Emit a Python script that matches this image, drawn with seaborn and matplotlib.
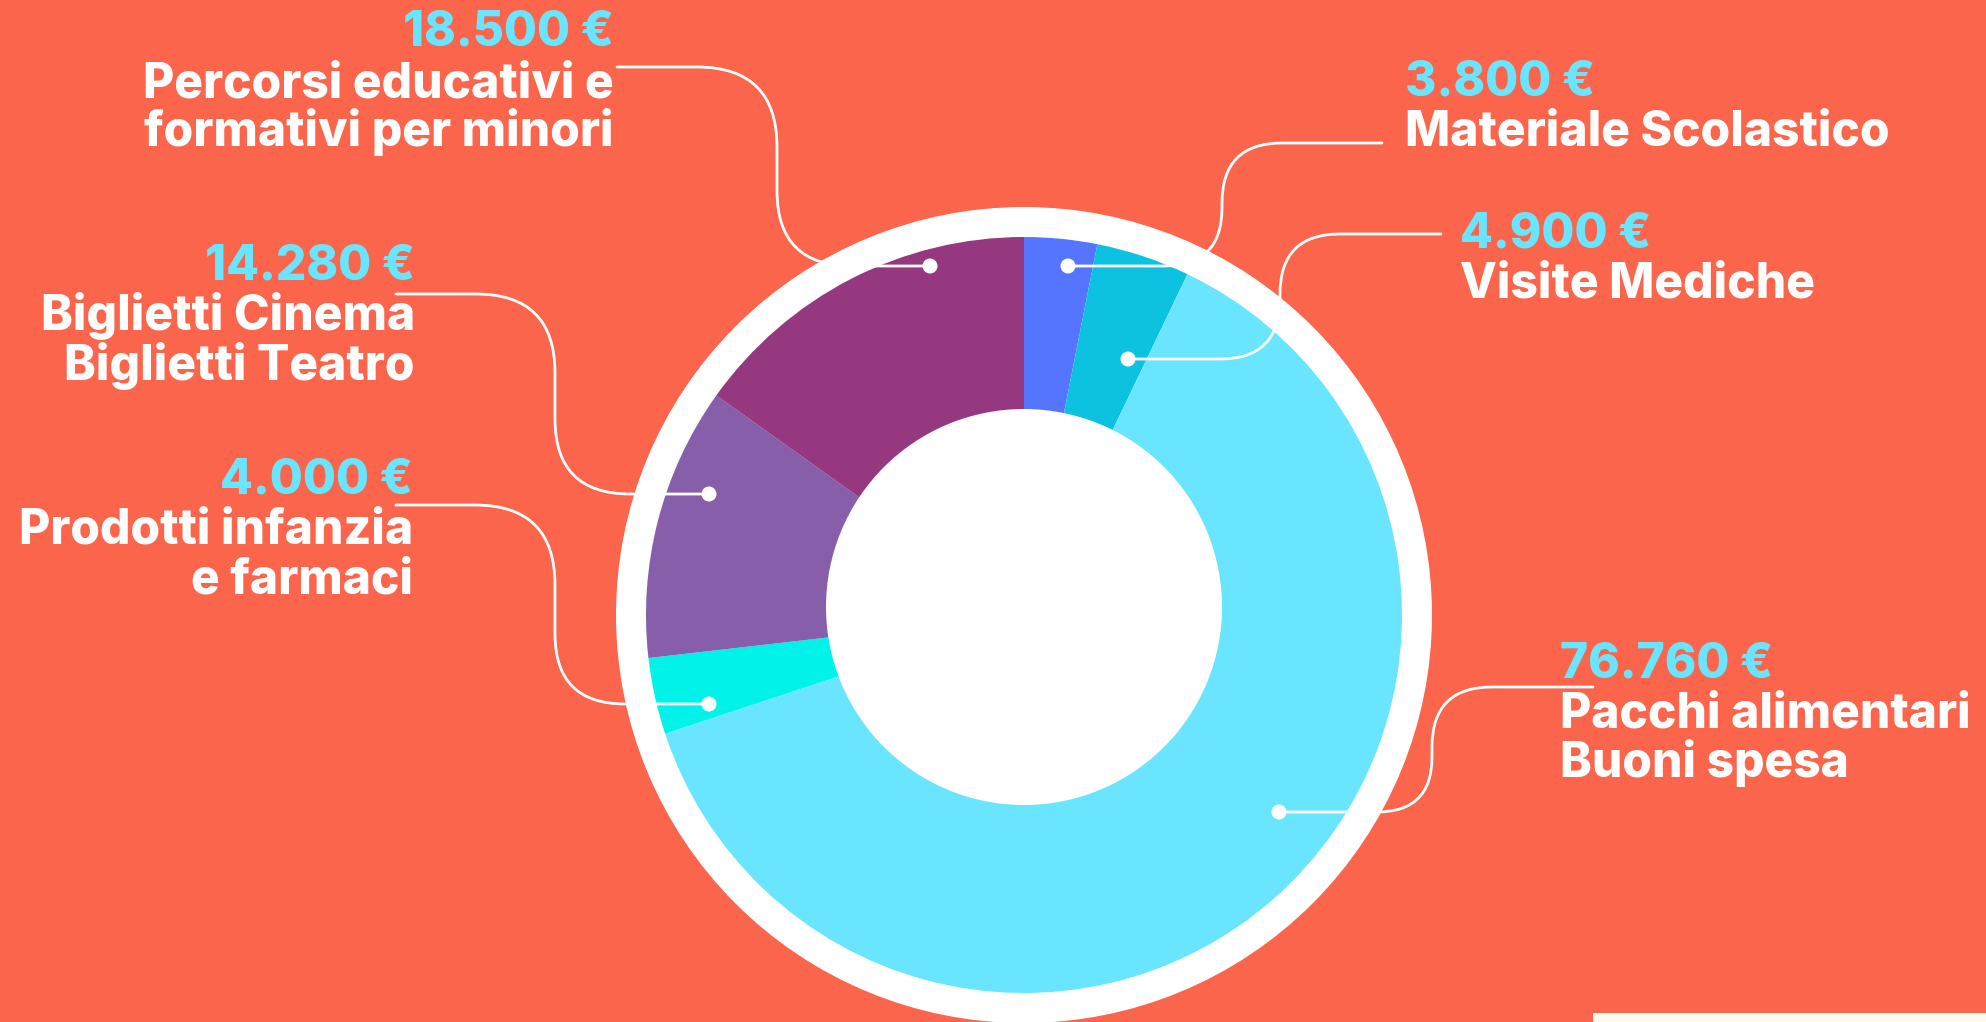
import numpy as np
import pandas as pd
import matplotlib.pyplot as plt
from matplotlib.patches import Circle, Rectangle, PathPatch
from matplotlib.path import Path
import seaborn as sns

# Data (clockwise from the top)
categories = ["Materiale Scolastico", "Visite Mediche", "Pacchi alimentari Buoni spesa",
              "Prodotti infanzia e farmaci", "Biglietti Cinema Biglietti Teatro",
              "Percorsi educativi e formativi per minori"]
values = [3800, 4900, 76760, 4000, 14280, 18500]
label_lines = [["Materiale Scolastico"],
               ["Visite Mediche"],
               ["Pacchi alimentari", "Buoni spesa"],
               ["Prodotti infanzia", "e farmaci"],
               ["Biglietti Cinema", "Biglietti Teatro"],
               ["Percorsi educativi e", "formativi per minori"]]

# Colours
bg = "#FA654C"
sliceCols = ["#5575FF", "#0DC2E0", "#6AE5FF", "#00F2E9", "#865EAA", "#96387F"]
valueCol = "#6AE5FF"

df = pd.DataFrame({"cat": categories, "val": values})
df["txt"] = df["val"].apply(lambda v: f"{v:,}".replace(",", ".") + " €")

sns.set_theme(style="white")
plt.rcParams["font.family"] = ["Inter", "DejaVu Sans"]

W, H = 1986, 1022
fig = plt.figure(figsize=(W / 100, H / 100), dpi=100, facecolor=bg)
ax = fig.add_axes([0, 0, 1, 1])
ax.set_facecolor(bg)

cx, cy = 1024, 615
# white outer ring
ax.add_patch(Circle((cx, cy), 408, color="white", zorder=1, lw=0))
wedges, _ = ax.pie(df["val"], colors=sns.color_palette(sliceCols), radius=378, center=(cx, cy),
                   startangle=-90, counterclock=True, wedgeprops=dict(linewidth=0))
for w in wedges:
    w.set_zorder(2)
# centre hole
ax.add_patch(Circle((cx, 607), 198, color="white", zorder=3, lw=0))

ax.set_xlim(0, W)
ax.set_ylim(H, 0)
ax.set_aspect("auto")
ax.axis("off")

# leader lines: corner points (image px) and corner radii
leaders = [
    ([(1068, 266), (1222, 266), (1222, 143), (1382, 143)], [58, 60]),
    ([(1128, 359), (1280, 359), (1280, 234), (1441, 234)], [60, 60]),
    ([(1279, 812), (1432, 812), (1432, 687), (1593, 687)], [55, 60]),
    ([(709, 704), (555, 704), (555, 505), (396, 505)], [70, 80]),
    ([(709, 494), (555, 494), (555, 294), (396, 294)], [75, 79]),
    ([(930, 266), (777, 266), (777, 67), (617, 67)], [75, 80]),
]

def roundedPath(pts, radii):
    pts = np.array(pts, float)
    verts = [pts[0]]
    codes = [Path.MOVETO]
    for i in range(1, len(pts) - 1):
        a, p, b = pts[i - 1], pts[i], pts[i + 1]
        r = radii[i - 1]
        din = (p - a) / np.linalg.norm(p - a)
        dout = (b - p) / np.linalg.norm(b - p)
        verts += [p - din * r, p, p + dout * r]
        codes += [Path.LINETO, Path.CURVE3, Path.CURVE3]
    verts.append(pts[-1])
    codes.append(Path.LINETO)
    return Path(verts, codes)

for pts, radii in leaders:
    ax.add_patch(PathPatch(roundedPath(pts, radii), fill=False, edgecolor="white",
                           lw=2.0, capstyle="round", zorder=4))
    ax.add_patch(Circle(pts[0], 7.5, color="white", zorder=5, lw=0))

# text blocks: anchor x, alignment, baselines (value, line1, line2)
blocks = [
    (1405, "left", [96, 146]),
    (1460, "left", [248, 297]),
    (1560, "left", [677, 727, 777]),
    (413, "right", [494, 544, 594]),
    (415, "right", [279, 330, 380]),
    (614, "right", [46, 97, 146]),
]
fs = 34.5
for i, (x, ha, ys) in enumerate(blocks):
    ax.text(x, ys[0], df["txt"][i], color=valueCol, fontsize=fs, fontweight="heavy",
            ha=ha, va="baseline", zorder=6)
    for line, y in zip(label_lines[i], ys[1:]):
        ax.text(x, y, line, color="white", fontsize=fs, fontweight="heavy",
                ha=ha, va="baseline", zorder=6)

# cream strip bottom right
ax.add_patch(Rectangle((1593, 1013), W - 1593, 9, color="#FFFCEF", lw=0, zorder=1))

fig.savefig("out.png", dpi=100, facecolor=bg)
